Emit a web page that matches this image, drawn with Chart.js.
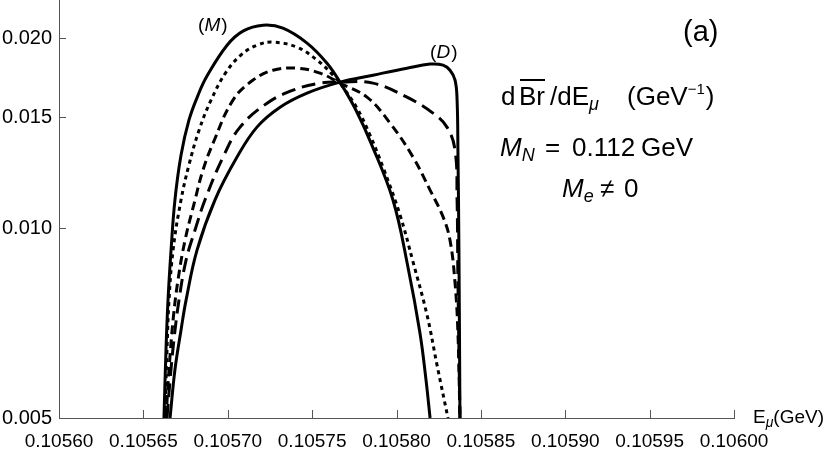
<!DOCTYPE html>
<html>
<head>
<meta charset="utf-8">
<script src="https://cdn.jsdelivr.net/npm/chart.js@4.4.0/dist/chart.umd.min.js"></script>
<style>
html, body { margin: 0; padding: 0; background: #fff; }
#wrap { width: 830px; height: 452px; }
</style>
</head>
<body>
<div id="wrap"><canvas id="spectre"></canvas></div>
<script>
// dBr/dE_mu (GeV^-1) vs E_mu (GeV), M_N = 0.112 GeV, lu sur la figure
// courbe (M)
var eM  = [0.1056622, 0.1056634, 0.1056646, 0.1056664, 0.1056687, 0.1056723, 0.1056770, 0.1056824, 0.1056877, 0.1056996, 0.1057090, 0.1057209, 0.1057327, 0.1057470, 0.1057588, 0.1057665, 0.1057760, 0.1057849, 0.1057979, 0.1058068, 0.1058139, 0.1058175, 0.1058199];
var brM = [0.00500, 0.00641, 0.00769, 0.00923, 0.01108, 0.01305, 0.01483, 0.01625, 0.01742, 0.01950, 0.02053, 0.02098, 0.02075, 0.01965, 0.01826, 0.01704, 0.01538, 0.01364, 0.01108, 0.00867, 0.00682, 0.00574, 0.00500];
// pointillés
var e2  = [0.1056628, 0.1056640, 0.1056652, 0.1056676, 0.1056723, 0.1056770, 0.1056830, 0.1056901, 0.1056990, 0.1057084, 0.1057173, 0.1057268, 0.1057410, 0.1057529, 0.1057624, 0.1057665, 0.1057766, 0.1057843, 0.1057920, 0.1058021, 0.1058098, 0.1058181, 0.1058240, 0.1058305];
var br2 = [0.00500, 0.00641, 0.00769, 0.00923, 0.01108, 0.01259, 0.01430, 0.01596, 0.01767, 0.01887, 0.01950, 0.01972, 0.01936, 0.01847, 0.01748, 0.01698, 0.01550, 0.01404, 0.01249, 0.01049, 0.00884, 0.00728, 0.00607, 0.00500];
// tirets
var e3  = [0.1056634, 0.1056652, 0.1056676, 0.1056705, 0.1056747, 0.1056806, 0.1056853, 0.1056913, 0.1057031, 0.1057150, 0.1057268, 0.1057410, 0.1057547, 0.1057665, 0.1057825, 0.1057962, 0.1058098, 0.1058199, 0.1058276, 0.1058317, 0.1058347, 0.1058364, 0.1058376];
var br3 = [0.00500, 0.00596, 0.00715, 0.00827, 0.00957, 0.01108, 0.01236, 0.01364, 0.01596, 0.01717, 0.01780, 0.01793, 0.01761, 0.01698, 0.01613, 0.01467, 0.01296, 0.01149, 0.01042, 0.00957, 0.00818, 0.00682, 0.00500];
// tirets longs
var e4  = [0.1056640, 0.1056658, 0.1056681, 0.1056711, 0.1056753, 0.1056806, 0.1056865, 0.1056972, 0.1057073, 0.1057233, 0.1057387, 0.1057547, 0.1057665, 0.1057861, 0.1058062, 0.1058216, 0.1058299, 0.1058347, 0.1058359, 0.1058364, 0.1058376];
var br4 = [0.00500, 0.00574, 0.00665, 0.00769, 0.00890, 0.00993, 0.01108, 0.01296, 0.01446, 0.01578, 0.01655, 0.01698, 0.01704, 0.01698, 0.01613, 0.01522, 0.01446, 0.01329, 0.01108, 0.00827, 0.00500];
// courbe (D)
var eD  = [0.1056658, 0.1056687, 0.1056723, 0.1056753, 0.1056818, 0.1056924, 0.1057055, 0.1057173, 0.1057310, 0.1057470, 0.1057665, 0.1057861, 0.1058062, 0.1058199, 0.1058276, 0.1058317, 0.1058347, 0.1058359, 0.1058364, 0.1058370, 0.1058376];
var brD = [0.00500, 0.00596, 0.00689, 0.00769, 0.00923, 0.01108, 0.01296, 0.01446, 0.01555, 0.01637, 0.01704, 0.01748, 0.01793, 0.01820, 0.01813, 0.01780, 0.01717, 0.01596, 0.01329, 0.00923, 0.00500];

var xTickLabels = ['0.10560', '0.10565', '0.10570', '0.10575', '0.10580', '0.10585', '0.10590', '0.10595', '0.10600'];
var yTickLabels = ['0.005', '0.010', '0.015', '0.020'];

// graduations : tous les 1e-5 en x, tous les 0.001 en y
var xTicks = [];
for (var i = 0; i <= 40; i++) xTicks.push(+(0.1056 + i * 0.00001).toFixed(5));
var yTicks = [];
for (var k = 5; k <= 23; k++) yTicks.push(k / 1000);

function pts(xs, ys) {
  return xs.map(function (x, i) { return { x: x, y: ys[i] }; });
}
function serie(xs, ys, dash) {
  return {
    data: pts(xs, ys),
    borderColor: '#000',
    borderWidth: 3,
    borderDash: dash,
    pointRadius: 0,
    tension: 0.4,
    fill: false
  };
}

var police = '"Liberation Sans", Arial, Helvetica, sans-serif';

// petits traits vers l'intérieur, comme dans la figure
var traits = {
  id: 'traits',
  afterDraw: function (chart) {
    var ctx = chart.ctx, a = chart.chartArea;
    var sx = chart.scales.x, sy = chart.scales.y;
    ctx.save();
    ctx.strokeStyle = '#555';
    ctx.lineWidth = 1;
    ctx.beginPath();
    sx.ticks.forEach(function (t) {
      var p = Math.round(sx.getPixelForValue(t.value)) + 0.5;
      var len = xTickLabels.indexOf(t.value.toFixed(5)) >= 0 ? 8 : 5;
      ctx.moveTo(p, a.bottom);
      ctx.lineTo(p, a.bottom - len);
    });
    sy.ticks.forEach(function (t) {
      var p = Math.round(sy.getPixelForValue(t.value)) + 0.5;
      var len = yTickLabels.indexOf(t.value.toFixed(3)) >= 0 ? 7 : 4;
      ctx.moveTo(a.left, p);
      ctx.lineTo(a.left + len, p);
    });
    ctx.stroke();
    ctx.restore();
  }
};

// morceaux de texte ; x explicite si donné, sinon à la suite
function morceaux(ctx, x, y, parts) {
  parts.forEach(function (p) {
    if (p.x !== undefined) x = p.x;
    ctx.font = p.f;
    ctx.fillText(p.t, x, y + (p.dy || 0));
    var w = ctx.measureText(p.t).width;
    if (p.over) ctx.fillRect(x + 1, y - p.over, w - 1, 2);
    x += w + (p.gap || 0);
  });
}

var textes = {
  id: 'textes',
  afterDraw: function (chart) {
    var ctx = chart.ctx;
    var sx = chart.scales.x, sy = chart.scales.y;
    var gros = '26px ' + police, grosI = 'italic 26px ' + police, indI = 'italic 18px ' + police;
    var pet = '19px ' + police, petI = 'italic 19px ' + police;
    ctx.save();
    ctx.fillStyle = '#000';
    ctx.textBaseline = 'alphabetic';
    ctx.textAlign = 'left';

    // étiquettes des courbes
    morceaux(ctx, sx.getPixelForValue(0.1056824), sy.getPixelForValue(0.02054), [
      { t: '(', f: pet }, { t: 'M', f: petI, gap: 1 }, { t: ')', f: pet }
    ]);
    morceaux(ctx, sx.getPixelForValue(0.1058199), sy.getPixelForValue(0.01860), [
      { t: '(', f: pet }, { t: 'D', f: petI, gap: 1 }, { t: ')', f: pet }
    ]);

    ctx.font = '29px ' + police;
    ctx.fillText('(a)', 683, 41);

    morceaux(ctx, 501, 105, [
      { t: 'd', f: gros },
      { t: 'Br', f: gros, over: 26, x: 519 },
      { t: '/dE', f: gros, x: 550 },
      { t: 'μ', f: indI, dy: 5 },
      { t: '(GeV', f: gros, x: 627 },
      { t: '−1', f: '15px ' + police, dy: -11, gap: 1 },
      { t: ')', f: gros }
    ]);
    morceaux(ctx, 500, 156, [
      { t: 'M', f: grosI },
      { t: 'N', f: indI, dy: 5 },
      { t: '=', f: gros, x: 545 },
      { t: '0.112', f: gros, x: 572 },
      { t: 'GeV', f: gros, x: 641 }
    ]);
    morceaux(ctx, 562, 197, [
      { t: 'M', f: grosI },
      { t: 'e', f: indI, dy: 5 },
      { t: '≠', f: gros, x: 600 },
      { t: '0', f: gros, x: 624 }
    ]);

    // titre de l'axe x
    morceaux(ctx, 753, 423, [
      { t: 'E', f: '19px ' + police },
      { t: 'μ', f: 'italic 14px ' + police, dy: 4 },
      { t: '(GeV)', f: '19px ' + police }
    ]);
    ctx.restore();
  }
};

var ctx = document.getElementById('spectre').getContext('2d');
var graphe = new Chart(ctx, {
  type: 'line',
  data: {
    datasets: [
      serie(eM, brM, []),
      serie(e2, br2, [4, 4]),
      serie(e3, br3, [9, 5]),
      serie(e4, br4, [14, 7]),
      serie(eD, brD, [])
    ]
  },
  options: {
    responsive: true,
    maintainAspectRatio: false,
    animation: false,
    layout: { padding: { left: 0, top: 0, right: 96, bottom: 0 } },
    plugins: { legend: { display: false }, tooltip: { enabled: false } },
    scales: {
      x: {
        type: 'linear',
        min: 0.10560,
        max: 0.10600,
        grid: { display: false, drawTicks: false },
        border: { display: true, color: '#555', width: 1 },
        afterBuildTicks: function (s) { s.ticks = xTicks.map(function (v) { return { value: v }; }); },
        afterFit: function (s) { s.height = 34; },
        ticks: {
          autoSkip: false,
          maxRotation: 0,
          padding: 12,
          color: '#000',
          font: { family: police, size: 19 },
          callback: function (v) {
            var s = Number(v).toFixed(5);
            return xTickLabels.indexOf(s) >= 0 ? s : null;
          }
        }
      },
      y: {
        type: 'logarithmic',
        min: 0.005,
        max: 0.023,
        grid: { display: false, drawTicks: false },
        border: { display: true, color: '#555', width: 1 },
        afterBuildTicks: function (s) { s.ticks = yTicks.map(function (v) { return { value: v }; }); },
        afterFit: function (s) { s.width = 59; s.paddingTop = 0; s.paddingBottom = 0; },
        ticks: {
          autoSkip: false,
          padding: 7,
          color: '#000',
          font: { family: police, size: 20 },
          callback: function (v) {
            var s = Number(v).toFixed(3);
            return yTickLabels.indexOf(s) >= 0 ? s : null;
          }
        }
      }
    }
  },
  plugins: [traits, textes]
});
</script>
</body>
</html>
